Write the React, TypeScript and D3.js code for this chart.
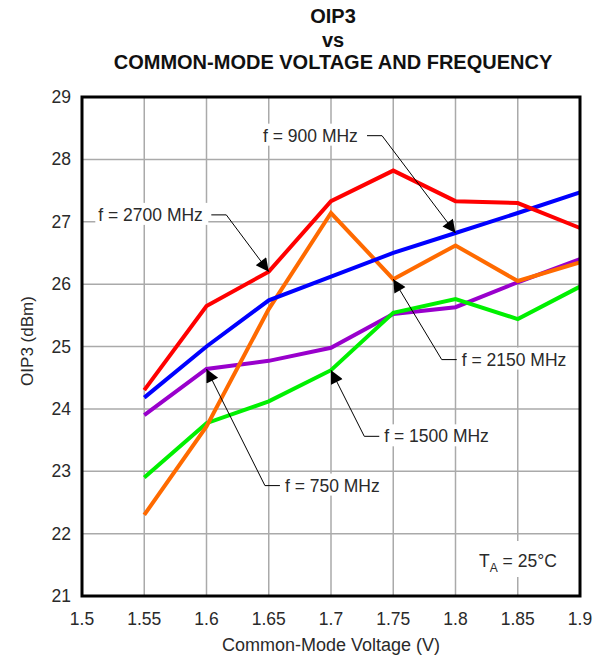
import React from "react";
import * as d3 from "d3";

const voltages = [1.55, 1.6, 1.65, 1.7, 1.75, 1.8, 1.85, 1.9];
const f2700 = [24.3, 25.65, 26.2, 27.33, 27.82, 27.33, 27.3, 26.9];
const f900 = [24.18, 25.0, 25.74, 26.12, 26.5, 26.82, 27.14, 27.47];
const f2150 = [22.3, 23.72, 25.6, 27.14, 26.08, 26.62, 26.05, 26.35];
const f750 = [23.9, 24.64, 24.77, 24.98, 25.52, 25.63, 26.03, 26.4];
const f1500 = [22.9, 23.77, 24.12, 24.62, 25.54, 25.76, 25.44, 25.96];

const xTicks = [1.5, 1.55, 1.6, 1.65, 1.7, 1.75, 1.8, 1.85, 1.9];
const yTicks = [21, 22, 23, 24, 25, 26, 27, 28, 29];

const series = [
  { name: "f = 750 MHz", values: f750, color: "#9900cc" },
  { name: "f = 1500 MHz", values: f1500, color: "#00f000" },
  { name: "f = 2150 MHz", values: f2150, color: "#ff6a00" },
  { name: "f = 900 MHz", values: f900, color: "#0000ff" },
  { name: "f = 2700 MHz", values: f2700, color: "#ff0000" },
];

// annotation label positions in data coordinates
const annotations = [
  { label: "f = 900 MHz", series: "f = 900 MHz", idx: 5, tx: 1.6454, ty: 28.38, side: "right" },
  { label: "f = 2700 MHz", series: "f = 2700 MHz", idx: 2, tx: 1.5131, ty: 27.11, side: "right" },
  { label: "f = 2150 MHz", series: "f = 2150 MHz", idx: 4, tx: 1.805, ty: 24.79, side: "left" },
  { label: "f = 1500 MHz", series: "f = 1500 MHz", idx: 3, tx: 1.7428, ty: 23.56, side: "left" },
  { label: "f = 750 MHz", series: "f = 750 MHz", idx: 1, tx: 1.663, ty: 22.77, side: "left" },
];

export default function App() {
  const W = 594, H = 666;
  const m = { left: 82, right: 14, top: 97, bottom: 70 };
  const x = d3.scaleLinear().domain([1.5, 1.9]).range([m.left, W - m.right]);
  const y = d3.scaleLinear().domain([21, 29]).range([H - m.bottom, m.top]);
  const line = d3.line<number>().x((_, i) => x(voltages[i])).y((d) => y(d));
  const font = "'Liberation Sans', Arial, sans-serif";
  const textColor = "#2a2a2a";
  const fs = 17.5;

  return (
    <svg width={W} height={H} style={{ position: "absolute", left: 0, top: 0, background: "#fff" }}>
      <defs>
        <marker id="arr" viewBox="0 0 10 10" refX="10" refY="5" markerWidth="15" markerHeight="13" markerUnits="userSpaceOnUse" orient="auto">
          <path d="M0,0 L10,5 L0,10 z" fill="#000" />
        </marker>
      </defs>
      <g fontFamily={font} fontWeight="bold" fontSize={20} fill="#111" textAnchor="middle">
        <text x={333} y={23}>OIP3</text>
        <text x={333} y={47}>vs</text>
        <text x={333} y={69}>COMMON-MODE VOLTAGE AND FREQUENCY</text>
      </g>
      {xTicks.map((t) => (
        <line key={"gx" + t} x1={x(t)} x2={x(t)} y1={y(29)} y2={y(21)} stroke="#aaa" strokeWidth={1.5} />
      ))}
      {yTicks.map((t) => (
        <line key={"gy" + t} x1={x(1.5)} x2={x(1.9)} y1={y(t)} y2={y(t)} stroke="#aaa" strokeWidth={1.5} />
      ))}
      {series.map((s) => (
        <path key={s.name} d={line(s.values) || ""} fill="none" stroke={s.color} strokeWidth={4} strokeLinejoin="miter" />
      ))}
      {annotations.map((a) => {
        const s = series.find((q) => q.name === a.series)!;
        const px = x(voltages[a.idx]);
        const py = y(s.values[a.idx]);
        const tx = x(a.tx);
        const ty = y(a.ty);
        const tw = a.label.length * 9.0;
        const right = a.side === "right";
        const hx1 = right ? tx + tw + 5 : tx - 20;
        const hx2 = right ? hx1 + 15 : tx - 5;
        const from = right ? hx2 : hx1;
        return (
          <g key={a.label}>
            <rect x={tx - 3} y={ty - 12} width={tw + 5} height={22} fill="#fff" />
            <line x1={hx1} x2={hx2} y1={ty} y2={ty} stroke="#000" strokeWidth={1} />
            <line x1={from} y1={ty} x2={px} y2={py} stroke="#000" strokeWidth={1} markerEnd="url(#arr)" />
            <text x={tx} y={ty + 6} fontFamily={font} fontSize={fs} fill={textColor}>{a.label}</text>
          </g>
        );
      })}
      <rect x={x(1.5)} y={y(29)} width={x(1.9) - x(1.5)} height={y(21) - y(29)} fill="none" stroke="#000" strokeWidth={3} />
      <g>
        <rect x={475} y={541} width={90} height={36} fill="#fff" />
        <text x={479} y={567} fontFamily={font} fontSize={fs} fill={textColor}>
          T<tspan fontSize={12} dy={5}>A</tspan><tspan dy={-5}> = 25°C</tspan>
        </text>
      </g>
      {yTicks.map((t) => (
        <text key={"yl" + t} x={71} y={y(t) + 6} textAnchor="end" fontFamily={font} fontSize={fs} fill={textColor}>{t}</text>
      ))}
      {xTicks.map((t) => (
        <text key={"xl" + t} x={x(t)} y={625} textAnchor="middle" fontFamily={font} fontSize={fs} fill={textColor}>{t}</text>
      ))}
      <text x={331} y={651} textAnchor="middle" fontFamily={font} fontSize={18} fill={textColor}>Common-Mode Voltage (V)</text>
      <text transform={`translate(33,341) rotate(-90)`} textAnchor="middle" fontFamily={font} fontSize={17} fill={textColor}>OIP3 (dBm)</text>
    </svg>
  );
}
